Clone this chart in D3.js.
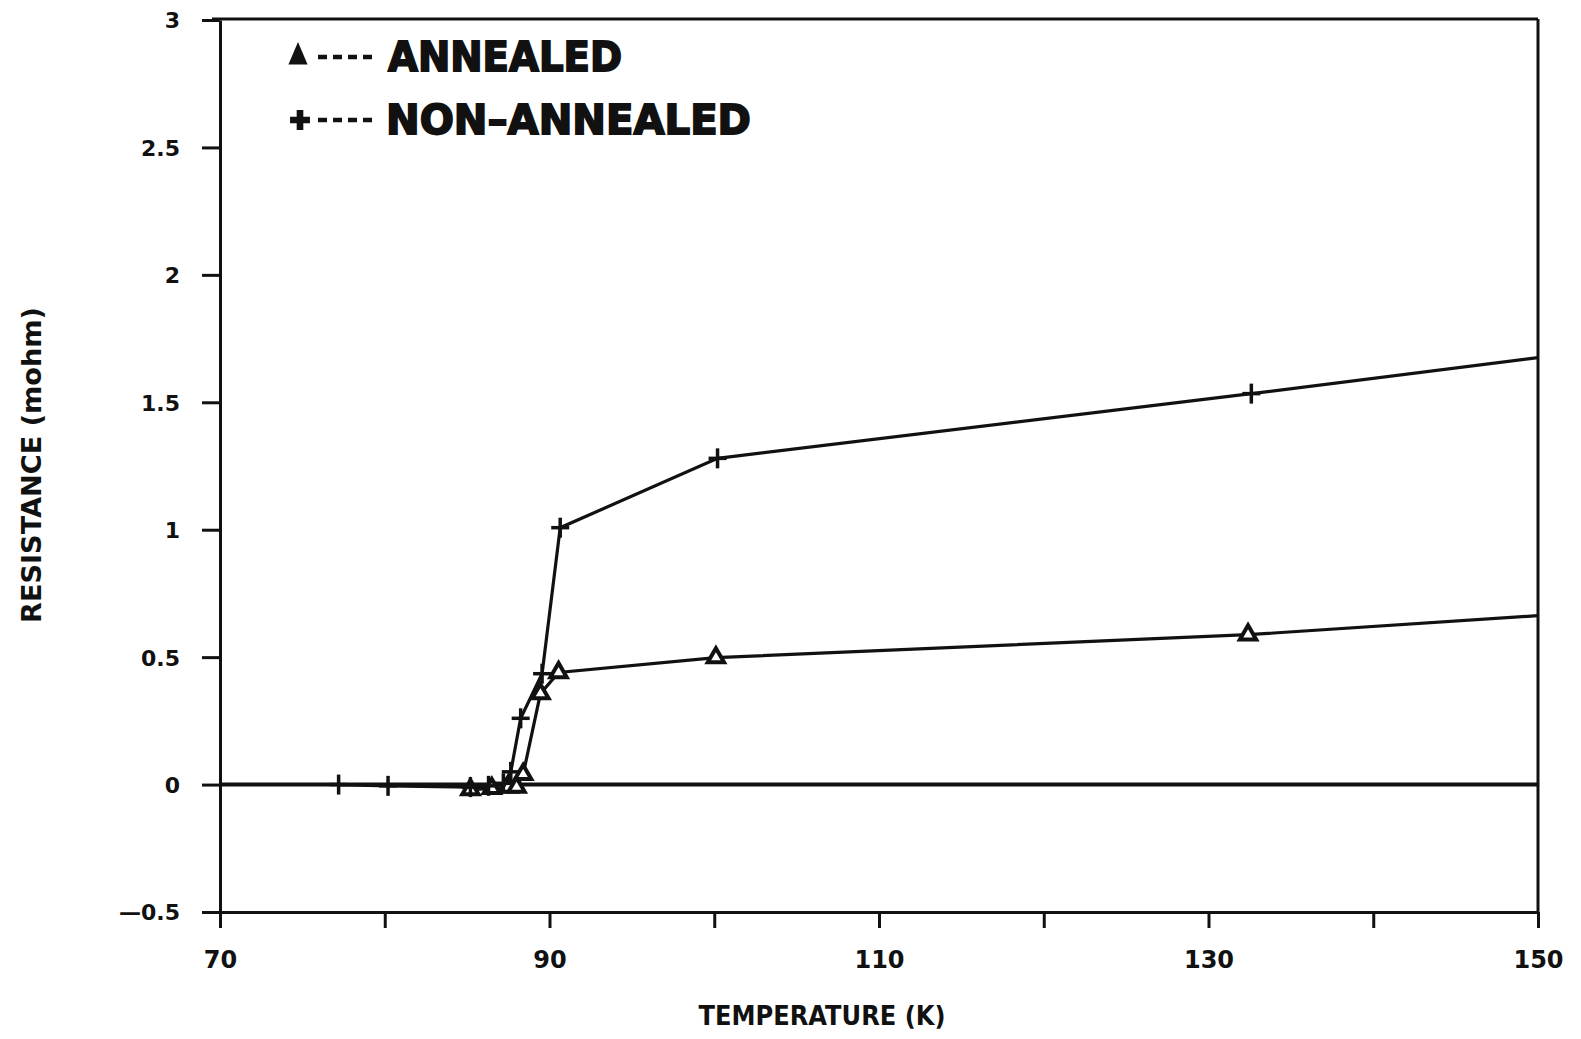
<!DOCTYPE html>
<html>
<head>
<meta charset="utf-8">
<script src="https://cdn.jsdelivr.net/npm/d3@7"></script>
<style>
  body { margin: 0; background: #fff; }
  text { font-family: "DejaVu Sans", sans-serif; fill: #111; }
</style>
</head>
<body>
<script>
// Data
const annealedT = [85.2, 86.5, 87.5, 88.0, 88.4, 89.45, 90.55, 100.1, 132.4, 150];
const annealedR = [-0.02, -0.015, -0.01, -0.01, 0.04, 0.357, 0.44, 0.498, 0.588, 0.663];
const nonAnnealedT = [77.2, 80.2, 85.2, 86.3, 87.2, 87.65, 88.25, 89.55, 90.65, 100.2, 132.6, 150];
const nonAnnealedR = [0.0, -0.005, -0.01, -0.005, 0.005, 0.05, 0.26, 0.435, 1.008, 1.28, 1.534, 1.675];
const yTicks = [-0.5, 0, 0.5, 1, 1.5, 2, 2.5, 3];
const xTicks = [70, 80, 90, 100, 110, 120, 130, 140, 150];
const xLabelled = [70, 90, 110, 130, 150];

const annealed = annealedT.map((t, i) => ({ t, r: annealedR[i] }));
const nonAnnealed = nonAnnealedT.map((t, i) => ({ t, r: nonAnnealedR[i] }));

const w = 1581;
const h = 1039;

const xScale = d3.scaleLinear().domain([70, 150]).range([220, 1538]);
const yScale = d3.scaleLinear().domain([-0.5, 3]).range([912, 20]);

const svg = d3.select('body').append('svg').attr('width', w).attr('height', h);

// Y axis
const yAxis = d3.axisLeft(yScale)
  .tickValues(yTicks)
  .tickSize(18)
  .tickSizeOuter(0)
  .tickPadding(22)
  .tickFormat(d => (d < 0 ? '\u2014' + Math.abs(d) : String(d)));

const gy = svg.append('g')
  .attr('transform', 'translate(' + xScale(70) + ',0)')
  .call(yAxis);
gy.select('.domain').attr('stroke', '#111').attr('stroke-width', 3);
gy.selectAll('.tick line').attr('stroke', '#111').attr('stroke-width', 3);
gy.selectAll('.tick text')
  .style('font-size', '22px')
  .style('font-weight', 'bold')
  .attr('dy', '0.36em');

// X axis
const xAxis = d3.axisBottom(xScale)
  .tickValues(xTicks)
  .tickSize(16)
  .tickSizeOuter(0)
  .tickPadding(23)
  .tickFormat(d => (xLabelled.includes(d) ? String(d) : ''));

const gx = svg.append('g')
  .attr('transform', 'translate(0,' + yScale(-0.5) + ')')
  .call(xAxis);
gx.select('.domain').attr('stroke', '#111').attr('stroke-width', 3);
gx.selectAll('.tick line').attr('stroke', '#111').attr('stroke-width', 3);
gx.selectAll('.tick text')
  .style('font-size', '24px')
  .style('font-weight', 'bold');

// Frame: top and right borders
svg.append('line')
  .attr('x1', xScale(70) - 8).attr('x2', xScale(150))
  .attr('y1', yScale(3) - 1).attr('y2', yScale(3) - 1)
  .attr('stroke', '#111').attr('stroke-width', 3);
svg.append('line')
  .attr('x1', xScale(150)).attr('x2', xScale(150))
  .attr('y1', yScale(3) - 1).attr('y2', yScale(-0.5))
  .attr('stroke', '#111').attr('stroke-width', 3);

// Zero line
svg.append('line')
  .attr('x1', xScale(70)).attr('x2', xScale(150))
  .attr('y1', yScale(0)).attr('y2', yScale(0))
  .attr('stroke', '#111').attr('stroke-width', 4);

// Series lines
const line = d3.line().x(d => xScale(d.t)).y(d => yScale(d.r));

svg.append('path')
  .datum(annealed)
  .attr('d', line)
  .attr('fill', 'none')
  .attr('stroke', '#111')
  .attr('stroke-width', 3.2);

svg.append('path')
  .datum(nonAnnealed)
  .attr('d', line)
  .attr('fill', 'none')
  .attr('stroke', '#111')
  .attr('stroke-width', 3.2);

// Markers
const tri = d3.symbol().type(d3.symbolTriangle).size(115);

svg.append('g')
  .selectAll('path')
  .data(annealed.filter(d => d.t < 150))
  .enter()
  .append('path')
  .attr('d', tri)
  .attr('transform', d => 'translate(' + xScale(d.t) + ',' + yScale(d.r) + ')')
  .attr('fill', '#fff')
  .attr('stroke', '#111')
  .attr('stroke-width', 4);

const plus = svg.append('g')
  .selectAll('g')
  .data(nonAnnealed.filter(d => d.t < 150))
  .enter()
  .append('g')
  .attr('transform', d => 'translate(' + xScale(d.t) + ',' + yScale(d.r) + ')');
plus.append('line')
  .attr('x1', -9).attr('x2', 9).attr('y1', 0).attr('y2', 0)
  .attr('stroke', '#111').attr('stroke-width', 3.5);
plus.append('line')
  .attr('x1', 0).attr('x2', 0).attr('y1', -10).attr('y2', 10)
  .attr('stroke', '#111').attr('stroke-width', 3.5);

// Legend
const legend = svg.append('g');
legend.append('path')
  .attr('d', d3.symbol().type(d3.symbolTriangle).size(220)())
  .attr('transform', 'translate(298,57) scale(0.85,1.15)')
  .attr('fill', '#111');
legend.append('path')
  .attr('d', d3.symbol().type(d3.symbolCross).size(220)())
  .attr('transform', 'translate(300,120)')
  .attr('fill', '#111');
[57, 120].forEach(yy => {
  legend.append('line')
    .attr('x1', 318).attr('x2', 378)
    .attr('y1', yy).attr('y2', yy)
    .attr('stroke', '#111').attr('stroke-width', 4.5)
    .attr('stroke-dasharray', '9,6');
});
legend.append('text')
  .attr('x', 388).attr('y', 71)
  .attr('textLength', 234)
  .attr('lengthAdjust', 'spacingAndGlyphs')
  .style('font-size', '40px')
  .style('font-weight', 'bold')
  .style('stroke', '#111').style('stroke-width', 1.8)
  .text('ANNEALED');
legend.append('text')
  .attr('x', 386).attr('y', 134)
  .attr('textLength', 365)
  .attr('lengthAdjust', 'spacingAndGlyphs')
  .style('font-size', '40px')
  .style('font-weight', 'bold')
  .style('stroke', '#111').style('stroke-width', 1.8)
  .text('NON\u2013ANNEALED');

// Axis titles
svg.append('text')
  .attr('x', 822).attr('y', 1025)
  .attr('text-anchor', 'middle')
  .attr('textLength', 247)
  .attr('lengthAdjust', 'spacingAndGlyphs')
  .style('font-size', '27px')
  .style('font-weight', 'bold')
  .text('TEMPERATURE (K)');

svg.append('text')
  .attr('transform', 'translate(41,465) rotate(-90)')
  .attr('text-anchor', 'middle')
  .attr('textLength', 316)
  .attr('lengthAdjust', 'spacingAndGlyphs')
  .style('font-size', '26px')
  .style('font-weight', 'bold')
  .text('RESISTANCE (mohm)');
</script>
</body>
</html>
